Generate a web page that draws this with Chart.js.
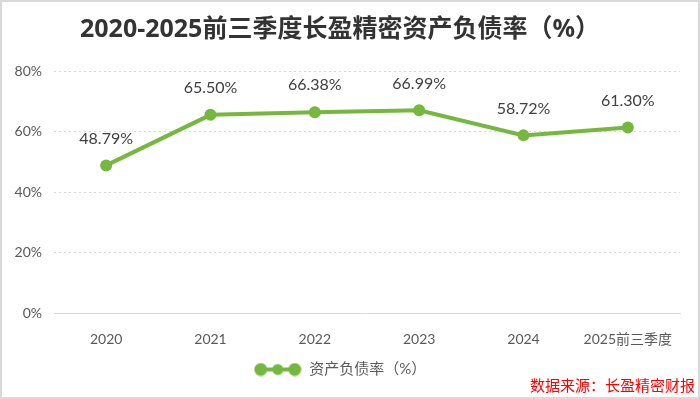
<!DOCTYPE html>
<html>
<head>
<meta charset="utf-8">
<script src="https://cdn.jsdelivr.net/npm/chart.js@4"></script>
<style>
  html, body { margin: 0; padding: 0; background: #fff; }
  #wrap { width: 700px; height: 399px; position: relative; }
</style>
</head>
<body>
<div id="wrap"><canvas id="chart"></canvas></div>
<script>
const years = ['2020', '2021', '2022', '2023', '2024', '2025前三季度'];
const debtRatio = [48.79, 65.50, 66.38, 66.99, 58.72, 61.30];
const yTicks = [0, 20, 40, 60, 80];

const GREEN = '#76b83f';
const FONT = 'Lato, "Noto Sans CJK SC", sans-serif';

// legend marker: line with three dots
const marker = document.createElement('canvas');
marker.width = 48; marker.height = 14;
(() => {
  const c = marker.getContext('2d');
  c.strokeStyle = GREEN; c.lineWidth = 4;
  c.beginPath(); c.moveTo(7, 7); c.lineTo(41, 7); c.stroke();
  c.fillStyle = GREEN;
  [[7, 6.5], [24, 5.5], [41, 6.5]].forEach(([x, r]) => {
    c.beginPath(); c.arc(x, 7, r, 0, Math.PI * 2); c.fill();
  });
})();

const extras = {
  id: 'extras',
  afterDatasetsDraw(chart) {
    const ctx = chart.ctx;
    const meta = chart.getDatasetMeta(0);
    ctx.save();
    ctx.font = '16px ' + FONT;
    ctx.fillStyle = '#404040';
    ctx.textAlign = 'center';
    ctx.textBaseline = 'middle';
    meta.data.forEach((pt, i) => {
      ctx.fillText(debtRatio[i].toFixed(2) + '%', pt.x, pt.y - 27);
    });
    ctx.restore();
  },
  afterDraw(chart) {
    const ctx = chart.ctx;
    ctx.save();
    ctx.font = '15px "Noto Sans CJK SC", sans-serif';
    ctx.fillStyle = '#ff0000';
    ctx.textAlign = 'right';
    ctx.textBaseline = 'middle';
    ctx.fillText('数据来源：长盈精密财报', 695, 385);
    ctx.strokeStyle = '#d9d9d9';
    ctx.lineWidth = 2;
    ctx.strokeRect(1, 1, chart.width - 2, chart.height - 2);
    ctx.restore();
  }
};

new Chart(document.getElementById('chart'), {
  type: 'line',
  data: {
    labels: years,
    datasets: [{
      label: '资产负债率（%）',
      data: debtRatio,
      borderColor: GREEN,
      backgroundColor: GREEN,
      borderWidth: 4,
      pointRadius: 6,
      pointHoverRadius: 6,
      pointBackgroundColor: GREEN,
      pointBorderWidth: 0,
      pointStyle: 'circle',
      tension: 0
    }]
  },
  options: {
    responsive: true,
    maintainAspectRatio: false,
    animation: false,
    layout: { padding: { left: 0, right: 20, top: 0, bottom: 12 } },
    plugins: {
      title: {
        display: true,
        text: '2020-2025前三季度长盈精密资产负债率（%）',
        color: '#333333',
        font: { family: '"Noto Sans", "Noto Sans CJK SC", sans-serif', size: 25, weight: 'bold' },
        padding: { top: 15, bottom: 26 }
      },
      legend: {
        position: 'bottom',
        labels: {
          usePointStyle: true,
          pointStyle: marker,
          pointStyleWidth: 48,
          color: '#595959',
          font: { family: FONT, size: 15 },
          padding: 10,
          generateLabels: (chart) => [{
            text: chart.data.datasets[0].label,
            pointStyle: marker,
            fontColor: '#595959',
            datasetIndex: 0,
            lineWidth: 0
          }]
        }
      },
      tooltip: { enabled: false }
    },
    scales: {
      x: {
        offset: true,
        grid: { display: false },
        border: { display: true, color: '#d9d9d9', width: 1 },
        ticks: { color: '#595959', font: { family: FONT, size: 14 }, padding: 10, maxRotation: 0 },
        afterFit: (s) => { s.height = 39; }
      },
      y: {
        min: 0,
        max: 80,
        afterBuildTicks: (s) => { s.ticks = yTicks.map(v => ({ value: v })); },
        grid: { color: '#d9d9d9', lineWidth: 1, drawTicks: false },
        border: { display: false, dash: [2, 3] },
        ticks: {
          color: '#595959',
          font: { family: FONT, size: 14 },
          padding: 12,
          callback: (v) => v + '%'
        },
        afterFit: (s) => { s.width = 54; }
      }
    }
  },
  plugins: [extras]
});
</script>
</body>
</html>
